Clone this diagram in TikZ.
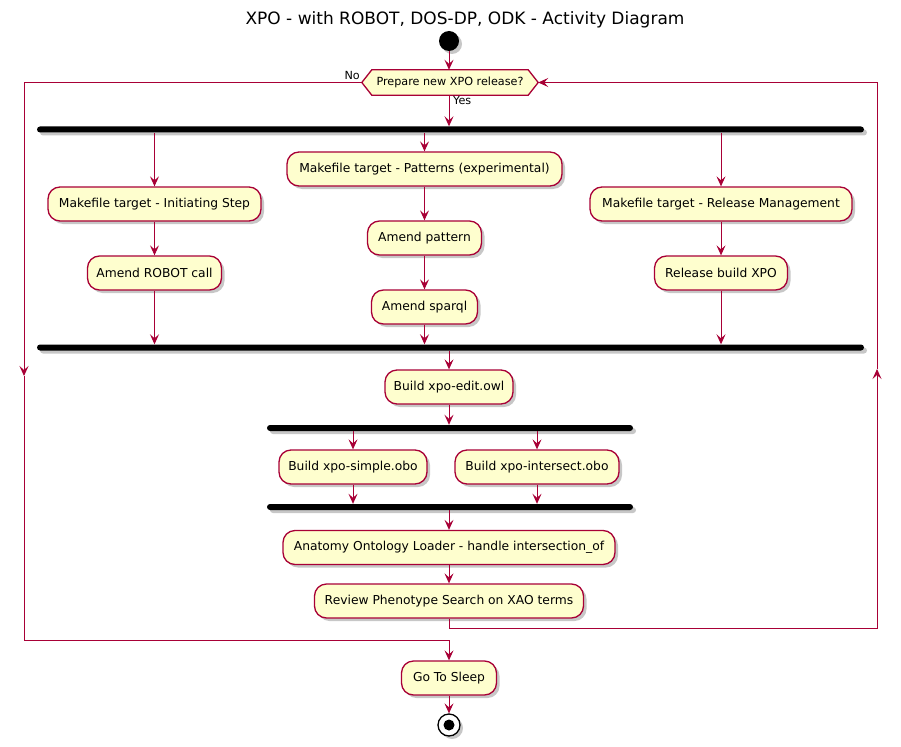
\documentclass[tikz,border=0pt]{standalone}
\usepackage{fontspec}
\setmainfont{DejaVu Sans}
\usetikzlibrary{arrows.meta,shadows}
\definecolor{brd}{HTML}{A80036}
\definecolor{actfill}{HTML}{FEFECE}
\pgfdeclarelayer{bg}
\pgfsetlayers{bg,main}
\begin{document}
\begin{tikzpicture}[x=1pt,y=-1pt,
  shd/.style={drop shadow={shadow xshift=3pt,shadow yshift=-3pt,opacity=.22,fill=black}},
  act/.style={rectangle, rounded corners=12pt, draw=brd, line width=1.3pt, fill=actfill,
    minimum height=34pt, inner sep=0pt, font=\fontsize{12.3}{14}\selectfont, shd},
  bar/.style={rectangle, rounded corners=3pt, fill=black, minimum height=6pt, inner sep=0pt, shd},
  arr/.style={draw=brd, line width=1pt, -{Stealth[length=10pt,width=9pt,inset=4pt]}},
  lbl/.style={font=\fontsize{11.2}{13}\selectfont, inner sep=0pt}]
\useasboundingbox (0,0) rectangle (901,746);

% title
\node[font=\fontsize{17}{20}\selectfont, inner sep=0pt] (title) at (465,20) {XPO - with ROBOT, DOS-DP, ODK - Activity Diagram};

% start
\node[circle, fill=black, minimum size=20pt, inner sep=0pt, shd] (start) at (449,41) {};

% decision hexagon
\node[lbl, minimum width=176pt, minimum height=25pt] (hex) at (450,82.5) {Prepare new XPO release?};
\begin{pgfonlayer}{bg}
  \fill[black, opacity=.22, shift={(3pt,-3pt)}] (hex.west) -- ([xshift=10pt]hex.north west) -- ([xshift=-10pt]hex.north east) -- (hex.east) -- ([xshift=-10pt]hex.south east) -- ([xshift=10pt]hex.south west) -- cycle;
  \filldraw[fill=actfill, draw=brd, line width=1.3pt] (hex.west) -- ([xshift=10pt]hex.north west) -- ([xshift=-10pt]hex.north east) -- (hex.east) -- ([xshift=-10pt]hex.south east) -- ([xshift=10pt]hex.south west) -- cycle;
\end{pgfonlayer}
\node[lbl, anchor=base east] (no) at (360,80) {No};
\node[lbl, anchor=base west] (yes) at (453,105) {Yes};

% bars
\node[bar, minimum width=827pt] (fork1) at (450.5,129.5) {};
\node[bar, minimum width=827pt] (join1) at (450.5,347.5) {};
\node[bar, minimum width=366pt] (fork2) at (450,428) {};
\node[bar, minimum width=366pt] (join2) at (450,507) {};

% activities
\node[act, minimum width=213pt] (init) at (154.5,204) {Makefile target - Initiating Step};
\node[act, minimum width=134pt] (robot) at (154.5,273) {Amend ROBOT call};
\node[act, minimum width=275pt] (patt) at (424.5,169) {Makefile target - Patterns (experimental)};
\node[act, minimum width=114pt] (amendp) at (424.5,238) {Amend pattern};
\node[act, minimum width=106pt] (sparql) at (424.5,307) {Amend sparql};
\node[act, minimum width=262pt] (relmgmt) at (721,204) {Makefile target - Release Management};
\node[act, minimum width=133pt] (relxpo) at (721,273) {Release build XPO};
\node[act, minimum width=128pt] (edit) at (449,387) {Build xpo-edit.owl};
\node[act, minimum width=148pt] (simple) at (353,467) {Build xpo-simple.obo};
\node[act, minimum width=164pt] (inter) at (537,467) {Build xpo-intersect.obo};
\node[act, minimum width=332pt] (anat) at (449,547.5) {Anatomy Ontology Loader - handle intersection\_of};
\node[act, minimum width=269pt] (review) at (449,601) {Review Phenotype Search on XAO terms};
\node[act, minimum width=95pt] (sleep) at (449,678) {Go To Sleep};

% end
\node[circle, draw=black, fill=white, line width=1.3pt, minimum size=22pt, inner sep=0pt, shd] (endc) at (449,725) {};
\node[circle, fill=black, minimum size=11pt, inner sep=0pt] (endd) at (endc) {};

% connectors
\draw[arr] (start.south) -- (start.south |- hex.north);
\draw[arr] (start |- hex.south) -- (start |- fork1.north);
\draw[arr] (fork1.south -| init.north) -- (init.north);
\draw[arr] (init.south) -- (robot.north);
\draw[arr] (robot.south) -- (robot.south |- join1.north);
\draw[arr] (fork1.south -| patt.north) -- (patt.north);
\draw[arr] (patt.south) -- (amendp.north);
\draw[arr] (amendp.south) -- (sparql.north);
\draw[arr] (sparql.south) -- (sparql.south |- join1.north);
\draw[arr] (fork1.south -| relmgmt.north) -- (relmgmt.north);
\draw[arr] (relmgmt.south) -- (relxpo.north);
\draw[arr] (relxpo.south) -- (relxpo.south |- join1.north);
\draw[arr] (join1.south -| edit.north) -- (edit.north);
\draw[arr] (edit.south) -- (edit.south |- fork2.north);
\draw[arr] (fork2.south -| simple.north) -- (simple.north);
\draw[arr] (fork2.south -| inter.north) -- (inter.north);
\draw[arr] (simple.south) -- (simple.south |- join2.north);
\draw[arr] (inter.south) -- (inter.south |- join2.north);
\draw[arr] (join2.south -| anat.north) -- (anat.north);
\draw[arr] (anat.south) -- (review.north);

% loop back (right)
\coordinate (rb) at (877,628);
\coordinate (rm) at (877,369);
\draw[arr] (review.south) |- (rb) -- (rm);
\draw[arr] (rm) -- (rb |- hex.east) -- (hex.east);

% exit (left)
\coordinate (lt) at (24,82.5);
\coordinate (lm) at (24,376);
\coordinate (lb) at (24,640);
\draw[arr] (hex.west) -- (lt) -- (lm);
\draw[arr] (lm) -- (lb) -- (lb -| sleep.north) -- (sleep.north);

\draw[arr] (sleep.south) -- (endc.north);
\end{tikzpicture}
\end{document}
